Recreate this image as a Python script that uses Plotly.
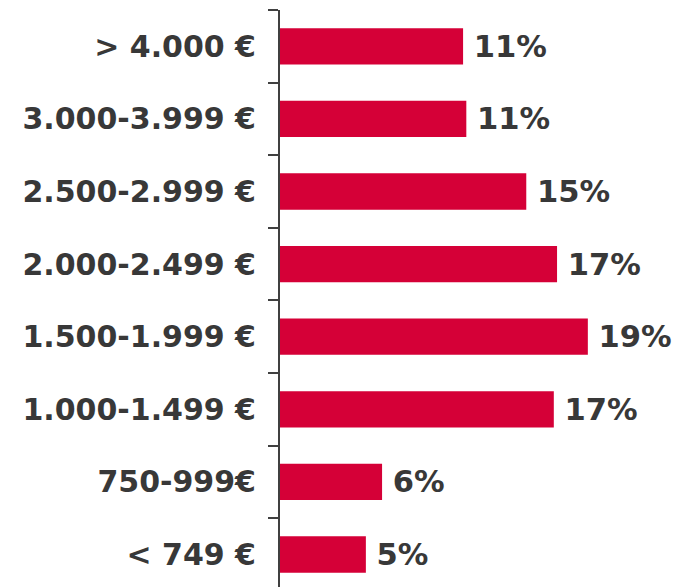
import plotly.graph_objects as go

categories = ["> 4.000 €", "3.000-3.999 €", "2.500-2.999 €", "2.000-2.499 €",
              "1.500-1.999 €", "1.000-1.499 €", "750-999€", "< 749 €"]
values = [11.3, 11.5, 15.2, 17.1, 19.0, 16.9, 6.3, 5.3]
value_labels = ["11%", "11%", "15%", "17%", "19%", "17%", "6%", "5%"]

BAR = "#D50037"
TXT = "#383838"
FONT = "DejaVu Sans"

fig = go.Figure(go.Bar(
    y=categories, x=values, orientation="h",
    marker=dict(color=BAR, line=dict(width=0)),
    width=0.5,
    text=value_labels, texttemplate="\u2005%{text}",
    textposition="outside", cliponaxis=False,
    textfont=dict(family=FONT, size=32, color=TXT, weight="bold"),
))

# page body has an 8px default margin; compensate so the figure fills the window
fig.update_layout(
    width=673, height=579,
    margin=dict(l=272, r=0, t=2, b=0, pad=0),
    paper_bgcolor="white", plot_bgcolor="white",
    showlegend=False,
    font=dict(family=FONT, color=TXT),
    xaxis=dict(range=[0, 24.75], visible=False, fixedrange=True, automargin=False),
    yaxis=dict(
        type="category", categoryorder="array", categoryarray=categories,
        range=[7.448, -0.5],
        showline=True, linecolor="#404040", linewidth=2,
        ticks="outside", tickson="boundaries", ticklen=10, tickcolor="#404040", tickwidth=2,
        showgrid=False, zeroline=False, automargin=False,
        tickfont=dict(family=FONT, size=30, color=TXT, weight="bold"),
        ticklabelstandoff=16,
        fixedrange=True,
    ),
)

fig.write_html("out.html")
